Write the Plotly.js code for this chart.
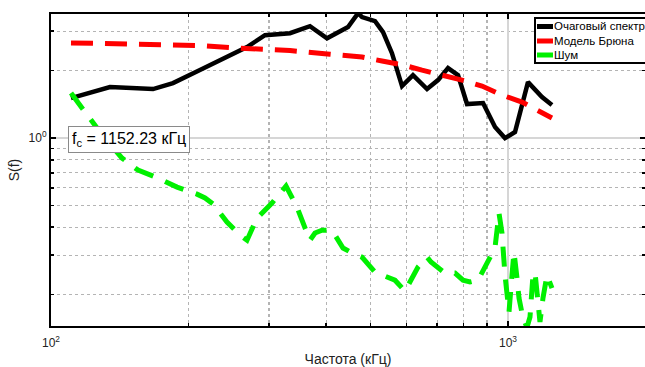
<!DOCTYPE html>
<html>
<head>
<meta charset="utf-8">
<script src="https://cdn.plot.ly/plotly-3.0.1.min.js"></script>
<style>html,body{margin:0;padding:0;background:#fff;}#chart{width:645px;height:367px;}</style>
</head>
<body>
<div id="chart"></div>
<script>
// Очаговый спектр (source spectrum)
const srcFreq = [110.6, 134.6, 167.2, 184.9, 211.8, 234.4, 268.5, 293.9, 333.4, 368.7, 401.8, 446.7, 469.8, 479.3, 511.7, 532.8, 557.3, 586.3, 619.6, 665.1, 702.9, 739.2, 777.5, 813.5, 881.8, 936.7, 984.9, 1036, 1106, 1187, 1248];
const srcVal  = [1.509, 1.69, 1.655, 1.76, 2.012, 2.23, 2.55, 2.88, 2.94, 3.16, 2.79, 3.13, 3.61, 3.47, 3.33, 2.97, 2.394, 1.707, 1.91, 1.655, 1.815, 2.054, 1.91, 1.419, 1.433, 1.12, 1.0, 1.064, 1.778, 1.524, 1.404];

// Модель Брюна (Brune model)
const bruneFreq = [110.6, 134.6, 167.2, 211.8, 259.2, 333.4, 407.7, 479.3, 530.1, 589.2, 648.4, 720.8, 793.3, 877.4, 970.2, 1073, 1175, 1248];
const bruneVal  = [2.66, 2.63, 2.60, 2.59, 2.52, 2.46, 2.37, 2.30, 2.21, 2.12, 2.01, 1.91, 1.815, 1.707, 1.556, 1.448, 1.306, 1.23];

// Шум (noise)
const noiseFreq = [110.6, 117.5, 128.0, 143.0, 155.0, 171.5, 188.7, 208.7, 217.3, 226.2, 242.7, 259.2, 268.5, 282.3, 304.5, 326.8, 345.4, 359.6, 368.7, 378.2, 391.7, 411.9, 435.5, 455.7, 479.2, 511.7, 565.8, 595.1, 604.2, 635.5, 665.0, 678.5, 728.1, 765.7, 797.2, 825.8, 859.8, 890.6, 936.5, 955.6, 970.2, 985.0, 995.0, 1005.1, 1020.3, 1030.7, 1046.4, 1057.0, 1078.5, 1100.5, 1117.2, 1134.2, 1145.7, 1163.1, 1174.9, 1192.8, 1217.1, 1248.2];
const noiseVal  = [1.588, 1.334, 1.064, 0.814, 0.720, 0.663, 0.604, 0.562, 0.540, 0.508, 0.422, 0.369, 0.350, 0.439, 0.513, 0.611, 0.492, 0.397, 0.350, 0.377, 0.388, 0.388, 0.323, 0.307, 0.294, 0.252, 0.232, 0.2075, 0.2184, 0.2655, 0.294, 0.2795, 0.2496, 0.2496, 0.232, 0.2277, 0.232, 0.2655, 0.323, 0.4626, 0.377, 0.2445, 0.189, 0.1672, 0.2445, 0.3098, 0.2371, 0.1931, 0.1572, 0.143, 0.1588, 0.2445, 0.252, 0.176, 0.151, 0.1931, 0.2445, 0.2139];

const seriesNames = ['Очаговый спектр', 'Модель Брюна', 'Шум'];
const seriesColors = ['#000000', '#ff0000', 'rgb(0,240,0)'];

const xMajorTicks = [100, 1000];
const xMajorText = ['10<sup>2</sup>', '10<sup>3</sup>'];
const xMinorTicks = [200, 300, 400, 500, 600, 700, 800, 900, 2000];
const yMajorTicks = [1];
const yMajorText = ['10<sup>0</sup>'];
const yMinorTicks = [0.2, 0.3, 0.4, 0.5, 0.6, 0.7, 0.8, 0.9, 2, 3];

const fcLabel = 'f<sub>c</sub> = 1152.23 кГц';

const FONT = 'Liberation Sans, Arial, Helvetica, sans-serif';

const traces = [
  {x: srcFreq, y: srcVal, mode: 'lines', line: {color: seriesColors[0], width: 4.5}, name: seriesNames[0]},
  {x: bruneFreq, y: bruneVal, mode: 'lines', line: {color: seriesColors[1], width: 5, dash: '22px,12px'}, name: seriesNames[1]},
  {x: noiseFreq, y: noiseVal, mode: 'lines', line: {color: seriesColors[2], width: 5, dash: '20px,13px'}, name: seriesNames[2]},
];

// compact legend box (MATLAB style), drawn in paper coordinates
const W = 645, H = 367, ML = 51, MT = 14, MB = 41;
const PW = W - ML, PH = H - MT - MB;
const px = v => (v - ML) / PW;
const py = v => (H - MB - v) / PH;
const legTop = 18, legBottom = 63, legLeft = 535, legRows = [26.5, 41, 55];
const shapes = [{
  type: 'rect', xref: 'paper', yref: 'paper', layer: 'above',
  x0: px(legLeft), x1: px(W + 20), y0: py(legBottom), y1: py(legTop),
  fillcolor: '#fff', line: {color: '#000', width: 2}
}];
const annotations = [{
  xref: 'paper', yref: 'paper', x: 0.1305, y: 0.5978, xanchor: 'center', yanchor: 'middle',
  text: fcLabel, showarrow: false,
  font: {family: FONT, size: 16, color: '#000'},
  bgcolor: '#fff', bordercolor: '#8a8a8a', borderwidth: 1, borderpad: 3,
  align: 'left'
}];
seriesNames.forEach((n, i) => {
  shapes.push({
    type: 'line', xref: 'paper', yref: 'paper', layer: 'above',
    x0: px(537), x1: px(553), y0: py(legRows[i]), y1: py(legRows[i]),
    line: {color: seriesColors[i], width: 5}
  });
  annotations.push({
    xref: 'paper', yref: 'paper', x: px(553), y: py(legRows[i]), xanchor: 'left', yanchor: 'middle',
    text: n, showarrow: false, font: {family: FONT, size: 11.5, color: '#000'}, borderpad: 0
  });
});

const layout = {
  width: W, height: H,
  margin: {l: ML, r: 0, t: MT, b: MB, autoexpand: false},
  paper_bgcolor: '#fff', plot_bgcolor: '#fff',
  font: {family: FONT, size: 12, color: '#000'},
  showlegend: false,
  xaxis: {
    type: 'log', range: [2, 3.2998],
    tickmode: 'array', tickvals: xMajorTicks, ticktext: xMajorText,
    ticks: 'inside', ticklen: 5, tickwidth: 1.5, tickcolor: '#000',
    ticklabelstandoff: 5,
    showline: true, linecolor: '#000', linewidth: 2, mirror: 'ticks',
    showgrid: true, gridcolor: '#d6d6d6', gridwidth: 1.5,
    zeroline: false,
    tickfont: {family: FONT, size: 12, color: '#222'},
    minor: {tickmode: 'array', tickvals: xMinorTicks, ticks: 'inside', ticklen: 3, tickcolor: '#000',
            showgrid: true, gridcolor: '#b4b4b4', griddash: 'dot', gridwidth: 1.2},
    title: {text: 'Частота (кГц)', font: {family: FONT, size: 14, color: '#222'}, standoff: 15}
  },
  yaxis: {
    type: 'log', range: [-0.839, 0.554],
    tickmode: 'array', tickvals: yMajorTicks, ticktext: yMajorText,
    ticks: 'inside', ticklen: 5, tickwidth: 1.5, tickcolor: '#000',
    showline: true, linecolor: '#000', linewidth: 2, mirror: 'ticks',
    showgrid: true, gridcolor: '#d6d6d6', gridwidth: 1.5,
    zeroline: false,
    tickfont: {family: FONT, size: 12, color: '#222'},
    minor: {tickmode: 'array', tickvals: yMinorTicks, ticks: 'inside', ticklen: 3, tickcolor: '#000',
            showgrid: true, gridcolor: '#b4b4b4', griddash: 'dot', gridwidth: 1.2},
    title: {text: 'S(f)', font: {family: FONT, size: 14, color: '#222'}, standoff: 6}
  },
  shapes: shapes,
  annotations: annotations
};

Plotly.newPlot('chart', traces, layout, {displayModeBar: false, staticPlot: true});
</script>
</body>
</html>
